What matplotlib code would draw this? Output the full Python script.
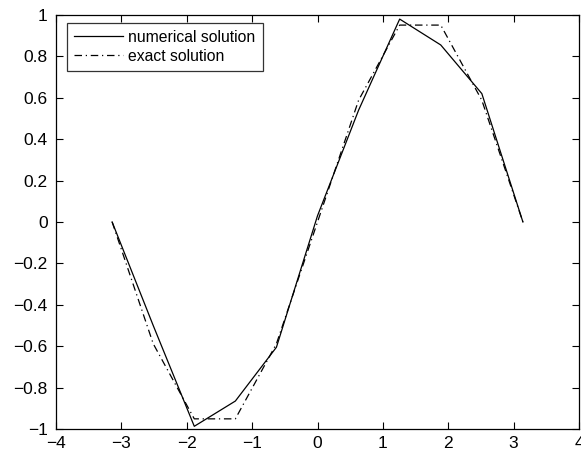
import numpy as np
import matplotlib
matplotlib.use("Agg")
import matplotlib.pyplot as plt

plt.rcParams['font.family'] = ['Liberation Sans', 'DejaVu Sans']

x = [-3.1416, -2.5133, -1.8850, -1.2566, -0.6283, 0.0, 0.6283, 1.2566, 1.8850, 2.5133, 3.1416]
numerical = [0.0, -0.50, -0.987, -0.865, -0.605, 0.03, 0.54, 0.98, 0.855, 0.62, 0.0]
exact = [0.0, -0.588, -0.951, -0.951, -0.588, 0.0, 0.588, 0.951, 0.951, 0.588, 0.0]

xticks = [-4, -3, -2, -1, 0, 1, 2, 3, 4]
yticks = [-1, -0.8, -0.6, -0.4, -0.2, 0, 0.2, 0.4, 0.6, 0.8, 1]
yticklabels = ['\u22121', '\u22120.8', '\u22120.6', '\u22120.4', '\u22120.2', '0', '0.2', '0.4', '0.6', '0.8', '1']
xticklabels = ['\u22124', '\u22123', '\u22122', '\u22121', '0', '1', '2', '3', '4']

fig = plt.figure(figsize=(5.81, 4.53), dpi=100)
ax = fig.add_axes([0.0964, 0.053, 0.9002, 0.914])

ax.plot(x, numerical, color='black', lw=0.9, ls='-', label='numerical solution')
ax.plot(x, exact, color='black', lw=0.9, ls=(0, (6, 3, 1, 3)), label='exact solution')

ax.set_xlim(-4, 4)
ax.set_ylim(-1, 1)
ax.set_xticks(xticks)
ax.set_xticklabels(xticklabels)
ax.set_yticks(yticks)
ax.set_yticklabels(yticklabels)
ax.tick_params(direction='in', length=5, width=0.8, top=True, right=True,
               labelsize=12.5, colors='black')
ax.tick_params(axis='y', pad=6)
ax.tick_params(axis='x', pad=5)
for s in ax.spines.values():
    s.set_linewidth(0.9)

leg = ax.legend(loc='upper left', bbox_to_anchor=(0.021, 0.981), fontsize=11.3,
                frameon=True, fancybox=False, edgecolor='black',
                handlelength=3.1, borderpad=0.45, labelspacing=0.25,
                handletextpad=0.35, borderaxespad=0.0)
leg.get_frame().set_linewidth(0.9)

fig.savefig('out.png', dpi=100)
